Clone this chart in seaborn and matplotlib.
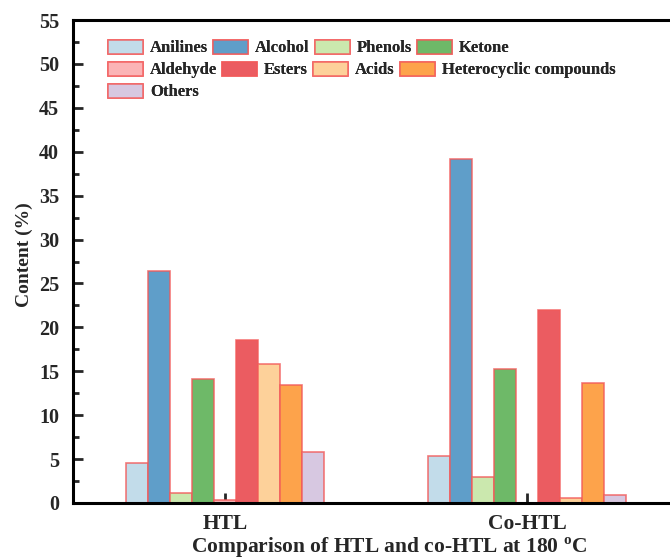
import matplotlib
matplotlib.use("Agg")
import matplotlib.pyplot as plt
from matplotlib.patches import Patch
from matplotlib.ticker import MultipleLocator
import seaborn as sns
import pandas as pd

samples = ["HTL", "Co-HTL"]
compounds = ["Anilines", "Alcohol", "Phenols", "Ketone", "Aldehyde",
             "Esters", "Acids", "Heterocyclic compounds", "Others"]
htl_values = [4.5, 26.4, 1.1, 14.1, 0.3, 18.6, 15.8, 13.4, 5.8]
cohtl_values = [5.3, 39.2, 3.0, 15.3, 0.0, 22.0, 0.6, 13.7, 0.9]
colors = ["#c2dcea", "#5f9ec9", "#cbe8ae", "#6eb968", "#fbb4b6",
          "#eb5c61", "#fdd19a", "#fda34b", "#d7c8e1"]

rows = []
for s, vals in zip(samples, [htl_values, cohtl_values]):
    for c, v in zip(compounds, vals):
        rows.append({"Sample": s, "Compound": c, "Content": v})
df = pd.DataFrame(rows)

sns.set_style("ticks")
plt.rcParams["font.family"] = ["Liberation Serif", "DejaVu Serif"]
plt.rcParams["font.weight"] = "bold"
plt.rcParams["mathtext.fontset"] = "custom"
plt.rcParams["mathtext.rm"] = "Liberation Serif:bold"
plt.rcParams["mathtext.bf"] = "Liberation Serif:bold"

fig = plt.figure(figsize=(6.7, 5.6), dpi=100)
ax = fig.add_axes([73 / 670, 57 / 560, 606 / 670, 483 / 560])

edge = (0.95, 0.35, 0.35, 0.8)
sns.barplot(data=df, x="Sample", y="Content", hue="Compound",
            order=samples, hue_order=compounds, palette=colors, saturation=1,
            width=0.656, edgecolor=edge, linewidth=1.2, legend=False, ax=ax)

ax.set_xlim(-0.503, 1.503)
ax.set_ylim(0, 55)
ax.yaxis.set_major_locator(MultipleLocator(5))
ax.yaxis.set_minor_locator(MultipleLocator(2.5))
ax.tick_params(axis="y", which="major", direction="in", length=7, width=2,
               labelsize=14.5, pad=10)
ax.tick_params(axis="y", which="minor", direction="in", length=4, width=2)
ax.tick_params(axis="x", which="major", direction="in", length=7, width=2,
               labelsize=15.5, pad=8)
for lab in ax.get_xticklabels() + ax.get_yticklabels():
    lab.set_fontweight("bold")

for side in ["left", "top", "bottom"]:
    ax.spines[side].set_linewidth(2.2)
    ax.spines[side].set_color("black")
ax.spines["right"].set_visible(False)

ax.set_ylabel("Content (%)", fontsize=14, fontweight="bold")
ax.yaxis.set_label_coords(-0.066, 0.514)
ax.set_xlabel(r"Comparison of HTL and co-HTL at 180 $^{\mathbf{o}}$C",
              fontsize=15.5, fontweight="bold")
ax.xaxis.set_label_coords(0.521, -0.068)

# legend laid out row by row, each row packed left
handles = [Patch(facecolor=c, edgecolor=edge, linewidth=1.2) for c in colors]
legend_rows = [[0, 1, 2, 3], [4, 5, 6, 7], [8]]
row_y = [48, 70, 92]
for idx, y in zip(legend_rows, row_y):
    leg = fig.legend([handles[i] for i in idx], [compounds[i] for i in idx],
                     loc="center left", bbox_to_anchor=(108 / 670, 1 - y / 560),
                     ncol=len(idx), frameon=False, borderpad=0, borderaxespad=0,
                     handlelength=2.1, handleheight=0.95, handletextpad=0.42,
                     columnspacing=0.3, prop={"family": "Liberation Serif",
                                              "weight": "bold", "size": 12})
    fig.add_artist(leg)

fig.savefig("out.png", dpi=100)
